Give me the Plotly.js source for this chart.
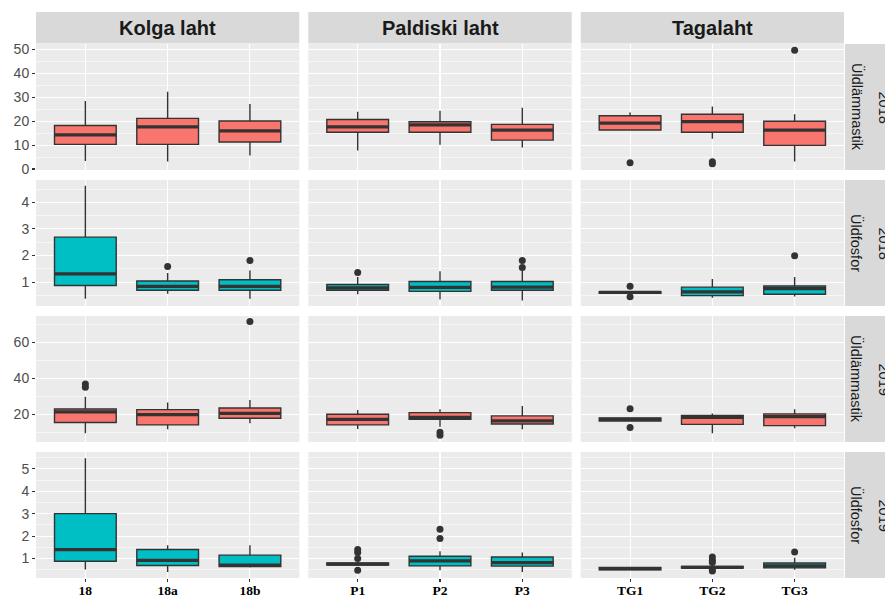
<!DOCTYPE html>
<html>
<head>
<meta charset="utf-8">
<script src="https://cdn.plot.ly/plotly-3.0.1.min.js"></script>
<style>
  html, body { margin: 0; padding: 0; background: #fff; }
  #chart { width: 885px; height: 595px; }
</style>
</head>
<body>
<div id="chart"></div>
<script>
// Facet labels
const sites = ['Kolga laht', 'Paldiski laht', 'Tagalaht'];
const stations = [['18', '18a', '18b'], ['P1', 'P2', 'P3'], ['TG1', 'TG2', 'TG3']];
const rowYears = ['2018', '2018', '2019', '2019'];
const rowVars = ['Üldlämmastik', 'Üldfosfor', 'Üldlämmastik', 'Üldfosfor'];

// Box statistics per row (year + indicator); 9 values per row:
// 18, 18a, 18b, P1, P2, P3, TG1, TG2, TG3
const lowerWhisker = [
  [3.4, 3.2, 5.7, 7.8, 10.2, 9.0, 16.0, 12.7, 3.2],
  [0.37, 0.56, 0.37, 0.54, 0.34, 0.31, 0.58, 0.41, 0.46],
  [9.4, 11.7, 15.0, 11.8, 13.1, 11.7, 16.0, 9.4, 12.2],
  [0.51, 0.40, 0.60, 0.68, 0.48, 0.40, 0.48, 0.55, 0.50]
];
const quartile1 = [
  [10.3, 10.3, 11.3, 15.4, 15.4, 12.1, 16.3, 15.4, 9.9],
  [0.87, 0.69, 0.69, 0.69, 0.65, 0.69, 0.58, 0.49, 0.54],
  [15.4, 14.1, 17.8, 14.1, 17.2, 14.6, 16.3, 14.4, 13.7],
  [0.88, 0.69, 0.64, 0.71, 0.67, 0.66, 0.50, 0.57, 0.58]
];
const medians = [
  [14.3, 17.6, 16.0, 17.6, 18.5, 16.3, 19.2, 19.8, 16.3],
  [1.31, 0.84, 0.84, 0.78, 0.80, 0.81, 0.61, 0.63, 0.75],
  [21.3, 19.8, 20.5, 17.2, 18.3, 16.3, 17.2, 18.3, 18.7],
  [1.40, 0.92, 0.70, 0.75, 0.89, 0.82, 0.55, 0.60, 0.67]
];
const quartile3 = [
  [18.2, 21.2, 20.1, 20.7, 19.8, 18.7, 22.3, 22.9, 20.0],
  [2.69, 1.04, 1.09, 0.91, 1.02, 1.02, 0.64, 0.81, 0.85],
  [22.9, 22.6, 23.5, 20.0, 20.9, 19.1, 18.0, 19.4, 20.2],
  [3.00, 1.40, 1.15, 0.80, 1.10, 1.07, 0.60, 0.65, 0.80]
];
const upperWhisker = [
  [28.5, 32.3, 27.2, 24.0, 24.4, 25.6, 23.7, 26.2, 22.9],
  [4.62, 1.34, 1.44, 1.19, 1.41, 1.42, 0.66, 1.12, 1.19],
  [29.8, 26.5, 27.9, 22.4, 22.8, 24.6, 18.4, 20.5, 22.8],
  [5.47, 1.59, 1.59, 0.86, 1.32, 1.27, 0.62, 0.70, 1.03]
];

// Outlying observations per row
const outlierStation = [
  ['TG1', 'TG2', 'TG2', 'TG3'],
  ['18a', '18b', 'P1', 'P3', 'P3', 'TG1', 'TG1', 'TG3'],
  ['18', '18', '18b', 'P2', 'P2', 'TG1', 'TG1'],
  ['P1', 'P1', 'P1', 'P1', 'P2', 'P2', 'TG2', 'TG2', 'TG2', 'TG2', 'TG2', 'TG3']
];
const outlierValue = [
  [2.6, 2.2, 3.0, 49.7],
  [1.59, 1.81, 1.36, 1.55, 1.81, 0.84, 0.45, 1.99],
  [36.8, 35.0, 71.5, 10.0, 8.3, 23.1, 12.6],
  [1.40, 1.27, 1.00, 0.48, 2.30, 1.89, 1.07, 0.92, 0.82, 0.50, 0.44, 1.29]
];

// Layout geometry (pixels of the 885 x 595 canvas)
const W = 885, H = 595;
const M = { l: 36, r: 41, t: 44, b: 17 };
const plotW = W - M.l - M.r, plotH = H - M.t - M.b;
const colPx = [[36, 299.3], [308.3, 571.7], [580.7, 844]];
const rowPx = [[44, 170], [180, 306], [316, 442], [452, 578]];
const px2x = p => (p - M.l) / plotW;
const px2y = p => (H - M.b - p) / plotH;

const yRanges = [[-0.4, 52.3], [0.1, 4.84], [4.6, 74.6], [0.13, 5.75]];
const yDticks = [10, 1, 20, 1];

const fillN = '#F8766D', fillP = '#00BFC4', ink = '#333333';

const traces = [];
for (let r = 0; r < 4; r++) {
  const ya = r === 0 ? 'y' : 'y' + (r + 1);
  const fill = rowVars[r] === 'Üldlämmastik' ? fillN : fillP;
  for (let c = 0; c < 3; c++) {
    const xa = c === 0 ? 'x' : 'x' + (c + 1);
    const s = c * 3, e = s + 3;
    const med = medians[r].slice(s, e);
    traces.push({
      type: 'box', xaxis: xa, yaxis: ya, x: stations[c],
      q1: quartile1[r].slice(s, e), median: med, q3: quartile3[r].slice(s, e),
      lowerfence: lowerWhisker[r].slice(s, e), upperfence: upperWhisker[r].slice(s, e),
      width: 0.75, whiskerwidth: 0, boxpoints: false,
      fillcolor: fill, line: { color: ink, width: 1.4 },
      hoverinfo: 'skip', showlegend: false
    });
    // heavier median bar
    traces.push({
      type: 'box', xaxis: xa, yaxis: ya, x: stations[c],
      q1: med, median: med, q3: med, lowerfence: med, upperfence: med,
      width: 0.75, whiskerwidth: 0, boxpoints: false,
      fillcolor: 'rgba(0,0,0,0)', line: { color: ink, width: 3.2 },
      hoverinfo: 'skip', showlegend: false
    });
    const ox = [], oy = [];
    outlierStation[r].forEach((st, i) => {
      if (stations[c].includes(st)) { ox.push(st); oy.push(outlierValue[r][i]); }
    });
    if (ox.length) {
      traces.push({
        type: 'scatter', mode: 'markers', xaxis: xa, yaxis: ya, x: ox, y: oy,
        marker: { color: ink, size: 7 }, hoverinfo: 'skip', showlegend: false
      });
    }
  }
}

const layout = {
  width: W, height: H,
  margin: M,
  paper_bgcolor: '#ffffff',
  plot_bgcolor: '#EBEBEB',
  boxmode: 'overlay',
  showlegend: false,
  shapes: [],
  annotations: []
};

for (let c = 0; c < 3; c++) {
  layout[c === 0 ? 'xaxis' : 'xaxis' + (c + 1)] = {
    domain: [px2x(colPx[c][0]), px2x(colPx[c][1])],
    anchor: 'y4', type: 'category',
    categoryorder: 'array', categoryarray: stations[c],
    range: [-0.6, 2.6],
    showgrid: true, gridcolor: '#ffffff', gridwidth: 1.1,
    ticks: 'outside', ticklen: 3, tickwidth: 1.1, tickcolor: ink,
    ticklabelstandoff: -3,
    tickfont: { family: 'Liberation Serif', size: 13.5, color: '#000000', weight: 'bold' },
    zeroline: false, showline: false, fixedrange: true
  };
  // column strip
  layout.shapes.push({
    type: 'rect', xref: 'paper', yref: 'paper', layer: 'below',
    x0: px2x(colPx[c][0]), x1: px2x(colPx[c][1]), y0: px2y(43.5), y1: px2y(12),
    fillcolor: '#D9D9D9', line: { width: 0 }
  });
  layout.annotations.push({
    xref: 'paper', yref: 'paper', showarrow: false,
    x: px2x((colPx[c][0] + colPx[c][1]) / 2), y: px2y(28),
    xanchor: 'center', yanchor: 'middle', text: sites[c],
    font: { family: 'Liberation Sans', size: 20, color: '#1A1A1A', weight: 'bold' }
  });
}

for (let r = 0; r < 4; r++) {
  layout[r === 0 ? 'yaxis' : 'yaxis' + (r + 1)] = {
    domain: [px2y(rowPx[r][1]), px2y(rowPx[r][0])],
    anchor: 'x', range: yRanges[r], tick0: 0, dtick: yDticks[r],
    showgrid: true, gridcolor: '#ffffff', gridwidth: 1.1,
    minor: { dtick: yDticks[r] / 2, tick0: 0, showgrid: true, gridcolor: '#ffffff', gridwidth: 0.55 },
    ticks: 'outside', ticklen: 3, tickwidth: 1.1, tickcolor: ink,
    tickfont: { family: 'Liberation Sans', size: 14, color: '#4D4D4D' },
    zeroline: false, showline: false, fixedrange: true
  };
  // row strip
  layout.shapes.push({
    type: 'rect', xref: 'paper', yref: 'paper', layer: 'below',
    x0: px2x(845), x1: px2x(900), y0: px2y(rowPx[r][1]), y1: px2y(rowPx[r][0]),
    fillcolor: '#D9D9D9', line: { width: 0 }
  });
  const yMid = px2y((rowPx[r][0] + rowPx[r][1]) / 2);
  layout.annotations.push({
    xref: 'paper', yref: 'paper', showarrow: false,
    x: px2x(857), y: yMid, xanchor: 'center', yanchor: 'middle',
    text: rowVars[r], textangle: 90,
    font: { family: 'Liberation Sans', size: 14.5, color: '#1A1A1A' }
  });
  layout.annotations.push({
    xref: 'paper', yref: 'paper', showarrow: false,
    x: px2x(883.5), y: yMid, xanchor: 'center', yanchor: 'middle',
    text: rowYears[r], textangle: 90,
    font: { family: 'Liberation Sans', size: 14.5, color: '#1A1A1A' }
  });
}

Plotly.newPlot('chart', traces, layout, { staticPlot: true, displayModeBar: false });
</script>
</body>
</html>
